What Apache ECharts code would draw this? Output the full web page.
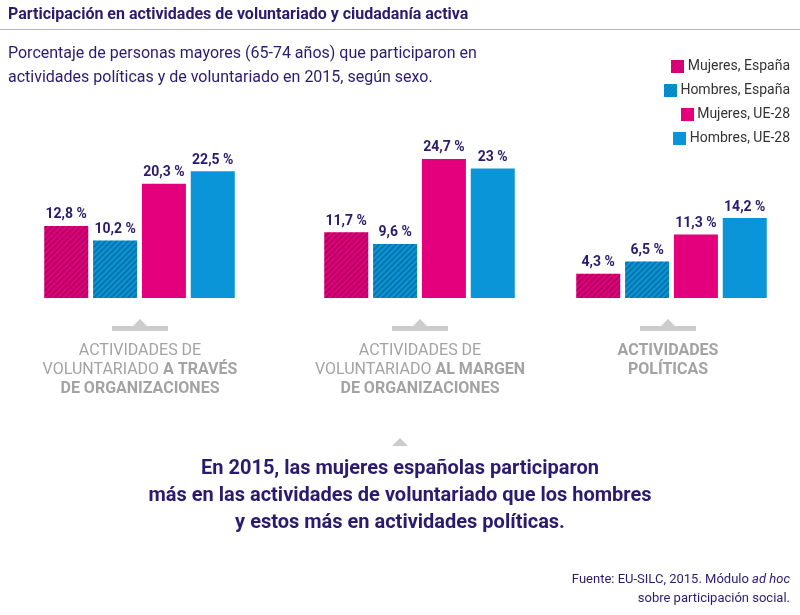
<!DOCTYPE html><html><head><meta charset="utf-8"><script src="https://cdn.jsdelivr.net/npm/echarts@6/dist/echarts.min.js"></script></head><body style="margin:0"><div id="c" style="width:800px;height:615px"></div><script>
const groups=['A TRAVÉS DE ORGANIZACIONES','AL MARGEN DE ORGANIZACIONES','POLÍTICAS'];
const seriesNames=['Mujeres, España','Hombres, España','Mujeres, UE-28','Hombres, UE-28'];
const mujeresEs=[12.8,11.7,4.3];
const hombresEs=[10.2,9.6,6.5];
const mujeresUE=[20.3,24.7,11.3];
const hombresUE=[22.5,23,14.2];
const vals=[mujeresEs,hombresEs,mujeresUE,hombresUE];
const colors=['#e4007d','#0a95d8','#e4007d','#0a95d8'];
const navy='#2b1b6f', gray='#a3a3a3';
const lefts=[44,324,576];
const decal={symbol:'rect',dashArrayX:[1,0],dashArrayY:[2,2],rotation:-Math.PI/4,color:'rgba(0,0,0,0.22)',symbolSize:1};
const grid=[],xAxis=[],yAxis=[],series=[];
lefts.forEach((l,g)=>{
 grid.push({left:l,width:191,top:157.3,bottom:317});
 xAxis.push({type:'category',gridIndex:g,data:[groups[g]],show:false});
 yAxis.push({type:'value',gridIndex:g,min:0,max:25,show:false});
 vals.forEach((v,i)=>series.push({type:'bar',name:seriesNames[i],xAxisIndex:g,yAxisIndex:g,data:[v[g]],barWidth:44,barGap:'11%',barCategoryGap:0,
  itemStyle:{color:colors[i],decal:i<2?decal:null},
  label:{show:true,position:'top',distance:4,color:navy,fontWeight:'bold',fontSize:14,fontFamily:'Roboto',formatter:p=>String(p.value).replace('.',',')+' %'}}));
});
function swatch(c,hatch){const cv=document.createElement('canvas');cv.width=13;cv.height=13;const x=cv.getContext('2d');x.fillStyle=c;x.fillRect(0,0,13,13);
 if(hatch){x.strokeStyle='rgba(0,0,0,0.25)';x.lineWidth=1;for(let k=-13;k<26;k+=4){x.beginPath();x.moveTo(k,13);x.lineTo(k+13,0);x.stroke();}}return cv;}
const gr=[
 {type:'text',left:8,top:7,style:{text:'Participación en actividades de voluntariado y ciudadanía activa',fill:navy,font:'bold 16px Roboto'}},
 {type:'rect',shape:{x:0,y:29,width:800,height:1},style:{fill:'#bbb'}},
 {type:'text',left:8,top:42,style:{text:'Porcentaje de personas mayores (65-74 años) que participaron en\nactividades políticas y de voluntariado en 2015, según sexo.',fill:navy,font:'16px Roboto',lineHeight:24}},
 {type:'text',x:400,y:455,style:{text:'En 2015, las mujeres españolas participaron\nmás en las actividades de voluntariado que los hombres\ny estos más en actividades políticas.',fill:navy,font:'bold 20px Roboto',lineHeight:27,align:'center'}},
 {type:'polygon',shape:{points:[[392,446],[400,438],[408,446]]},style:{fill:'#ccc'}},
 {type:'text',x:790,y:570,style:{rich:{n:{fill:navy,font:'13px Roboto'},i:{fill:navy,font:'italic 13px Roboto'}},text:'{n|Fuente: EU-SILC, 2015. Módulo }{i|ad hoc}\n{n|sobre participación social.}',align:'right',lineHeight:19}}
];
const legY=[67,91,115,139];
seriesNames.forEach((n,i)=>{
 gr.push({type:'text',x:790,y:legY[i]-8,style:{text:'{s|} '+n,align:'right',fill:'#333',font:'14px Roboto',
  rich:{s:{width:13,height:13,backgroundColor:{image:swatch(colors[i],i<2)}}}}});
});
const cats=[
 ['ACTIVIDADES DE\nVOLUNTARIADO {b|A TRAVÉS}\n{b|DE ORGANIZACIONES}',140],
 ['ACTIVIDADES DE\nVOLUNTARIADO {b|AL MARGEN}\n{b|DE ORGANIZACIONES}',420],
 ['{b|ACTIVIDADES}\n{b|POLÍTICAS}',668]];
cats.forEach(([t,x])=>{
 gr.push({type:'rect',shape:{x:x-28,y:326,width:56,height:5},style:{fill:'#ccc'}});
 gr.push({type:'polygon',shape:{points:[[x-7,326],[x,319],[x+7,326]]},style:{fill:'#ccc'}});
 gr.push({type:'text',x:x,y:341,style:{text:t,align:'center',fill:gray,font:'16px Roboto',lineHeight:19,rich:{b:{fill:gray,font:'bold 16px Roboto'}}}});
});
const ch=echarts.init(document.getElementById('c'));
ch.setOption({animation:false,grid,xAxis,yAxis,series,graphic:gr});
</script></body></html>
